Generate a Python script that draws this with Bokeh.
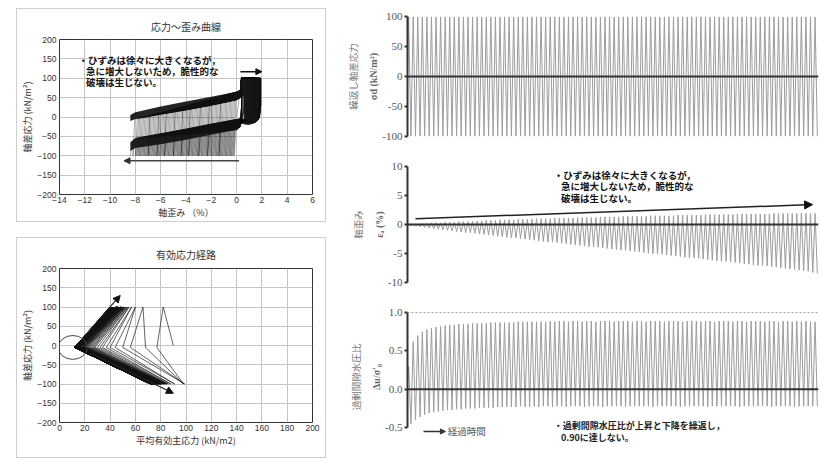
import numpy as np
from bokeh.plotting import figure
from bokeh.layouts import row, column
from bokeh.models import (Range1d, Span, Arrow, NormalHead, LinearAxis, FixedTicker,
                          PrintfTickFormatter, Spacer)
from bokeh.core.properties import value
from bokeh.embed import file_html
from bokeh.resources import INLINE

JP = "Noto Sans CJK JP"
SERIF = "Liberation Serif"
SANS = "Liberation Sans"

N = 90  # number of loading cycles

# ---- time histories: per-cycle peak / trough values ----
stress_peak = [100, 100, 100, 100, 100, 100, 100, 100, 100, 100,
               100, 100, 100, 100, 100, 100, 100, 100, 100, 100,
               100, 100, 100, 100, 100, 100, 100, 100, 100, 100,
               100, 100, 100, 100, 100, 100, 100, 100, 100, 100,
               100, 100, 100, 100, 100, 100, 100, 100, 100, 100,
               100, 100, 100, 100, 100, 100, 100, 100, 100, 100,
               100, 100, 100, 100, 100, 100, 100, 100, 100, 100,
               100, 100, 100, 100, 100, 100, 100, 100, 100, 100,
               100, 100, 100, 100, 100, 100, 100, 100, 100, 100]
stress_trough = [-100, -100, -100, -100, -100, -100, -100, -100, -100, -100,
                 -100, -100, -100, -100, -100, -100, -100, -100, -100, -100,
                 -100, -100, -100, -100, -100, -100, -100, -100, -100, -100,
                 -100, -100, -100, -100, -100, -100, -100, -100, -100, -100,
                 -100, -100, -100, -100, -100, -100, -100, -100, -100, -100,
                 -100, -100, -100, -100, -100, -100, -100, -100, -100, -100,
                 -100, -100, -100, -100, -100, -100, -100, -100, -100, -100,
                 -100, -100, -100, -100, -100, -100, -100, -100, -100, -100,
                 -100, -100, -100, -100, -100, -100, -100, -100, -100, -100]
strain_peak = [0.0, 0.1, 0.1, 0.2, 0.2, 0.3, 0.3, 0.3, 0.4, 0.4,
               0.4, 0.5, 0.5, 0.5, 0.6, 0.6, 0.6, 0.7, 0.7, 0.7,
               0.8, 0.8, 0.8, 0.8, 0.9, 0.9, 0.9, 0.9, 1.0, 1.0,
               1.0, 1.0, 1.1, 1.1, 1.1, 1.1, 1.1, 1.2, 1.2, 1.2,
               1.2, 1.2, 1.3, 1.3, 1.3, 1.3, 1.3, 1.4, 1.4, 1.4,
               1.4, 1.4, 1.4, 1.5, 1.5, 1.5, 1.5, 1.5, 1.5, 1.6,
               1.6, 1.6, 1.6, 1.6, 1.6, 1.7, 1.7, 1.7, 1.7, 1.7,
               1.7, 1.7, 1.8, 1.8, 1.8, 1.8, 1.8, 1.8, 1.8, 1.8,
               1.9, 1.9, 1.9, 1.9, 1.9, 1.9, 1.9, 1.9, 1.9, 1.9]
strain_trough = [-0.2, -0.3, -0.4, -0.5, -0.6, -0.7, -0.8, -0.9, -1.0, -1.1,
                 -1.2, -1.3, -1.4, -1.4, -1.5, -1.6, -1.7, -1.8, -1.9, -2.0,
                 -2.1, -2.2, -2.3, -2.3, -2.4, -2.5, -2.6, -2.7, -2.8, -2.9,
                 -3.0, -3.0, -3.1, -3.2, -3.3, -3.4, -3.5, -3.6, -3.7, -3.8,
                 -3.8, -3.9, -4.0, -4.1, -4.2, -4.3, -4.4, -4.4, -4.5, -4.6,
                 -4.7, -4.8, -4.9, -5.0, -5.0, -5.1, -5.2, -5.3, -5.4, -5.5,
                 -5.6, -5.7, -5.7, -5.8, -5.9, -6.0, -6.1, -6.2, -6.3, -6.3,
                 -6.4, -6.5, -6.6, -6.7, -6.8, -6.9, -7.0, -7.0, -7.1, -7.2,
                 -7.3, -7.4, -7.5, -7.6, -7.7, -7.8, -7.9, -8.0, -8.2, -8.4]
pore_peak = [0.30, 0.62, 0.70, 0.75, 0.78, 0.80, 0.81, 0.82, 0.83, 0.84,
             0.84, 0.85, 0.85, 0.85, 0.86, 0.86, 0.86, 0.86, 0.87, 0.87,
             0.87, 0.87, 0.87, 0.87, 0.88, 0.88, 0.88, 0.88, 0.88, 0.88,
             0.88, 0.89, 0.88, 0.89, 0.89, 0.88, 0.89, 0.89, 0.88, 0.89,
             0.89, 0.88, 0.89, 0.89, 0.89, 0.88, 0.89, 0.89, 0.89, 0.88,
             0.89, 0.89, 0.88, 0.89, 0.89, 0.89, 0.88, 0.89, 0.89, 0.89,
             0.88, 0.89, 0.89, 0.89, 0.88, 0.89, 0.89, 0.88, 0.89, 0.89,
             0.89, 0.88, 0.89, 0.89, 0.88, 0.89, 0.89, 0.89, 0.88, 0.89,
             0.89, 0.88, 0.89, 0.89, 0.88, 0.89, 0.88, 0.89, 0.88, 0.88]
pore_trough = [-0.45, -0.40, -0.36, -0.33, -0.31, -0.30, -0.29, -0.28, -0.27, -0.27,
               -0.26, -0.26, -0.25, -0.25, -0.25, -0.24, -0.24, -0.24, -0.24, -0.23,
               -0.23, -0.23, -0.23, -0.23, -0.22, -0.23, -0.23, -0.22, -0.23, -0.22,
               -0.22, -0.23, -0.22, -0.22, -0.23, -0.22, -0.22, -0.22, -0.23, -0.22,
               -0.22, -0.22, -0.23, -0.22, -0.22, -0.22, -0.22, -0.23, -0.22, -0.22,
               -0.22, -0.22, -0.22, -0.23, -0.22, -0.22, -0.22, -0.22, -0.22, -0.23,
               -0.22, -0.22, -0.22, -0.22, -0.22, -0.23, -0.22, -0.22, -0.22, -0.22,
               -0.22, -0.22, -0.23, -0.22, -0.22, -0.22, -0.22, -0.22, -0.22, -0.23,
               -0.22, -0.22, -0.22, -0.22, -0.23, -0.22, -0.22, -0.22, -0.22, -0.22]

# ---- stress-strain branches (band edges) ----
band_strain = [-8.4, -8.0, -6.0, -4.0, -2.0, 0.0, 0.3]
upper_band_top = [5, 12, 27, 40, 52, 65, 70]
upper_band_bot = [-10, -5, 7, 18, 30, 44, 50]
lower_band_top = [-65, -55, -43, -31, -18, -6, -4]
lower_band_bot = [-88, -80, -70, -59, -46, -33, -25]
# dense compression block at the right of the loops
block_strain = [0.3, 0.35, 1.85, 1.85, 1.8, 1.7, 1.4, 1.0, 0.6, 0.6, 0.3]
block_stress = [62, 100, 100, 30, 5, -8, -15, -19, -18, 52, 62]

# ---- effective stress path: per-cycle p' at turning points ----
p_start = 90
p_tip_comp = [82, 66, 60, 57, 55, 54, 53, 52, 52, 51,
              51, 50, 50, 50, 49, 49, 49, 48, 48, 48,
              48, 47, 47, 47, 47, 46, 46, 46, 46, 46,
              45, 45, 45, 45, 45, 45, 44, 44, 44, 44,
              44, 44, 44, 43, 43, 43, 43, 43, 43, 43,
              43, 42, 42, 42, 42, 42, 42, 42, 42, 42,
              42, 42, 41, 42, 41, 42, 41, 41, 42, 41,
              41, 41, 41, 42, 41, 41, 41, 41, 41, 41,
              41, 41, 40, 41, 41, 40, 41, 40, 41, 40]
p_tip_ext = [98, 99, 91, 88, 86, 85, 84, 84, 83, 83,
             82, 82, 81, 81, 81, 80, 80, 80, 79, 79,
             79, 79, 78, 78, 78, 78, 77, 77, 77, 77,
             77, 76, 76, 76, 76, 76, 76, 75, 75, 75,
             75, 75, 75, 75, 74, 74, 74, 74, 74, 74,
             74, 74, 74, 73, 73, 73, 73, 73, 73, 73,
             73, 73, 72, 73, 73, 72, 73, 72, 73, 72,
             72, 73, 72, 72, 73, 72, 72, 72, 73, 72,
             72, 72, 72, 73, 72, 72, 72, 72, 72, 72]
p_apex_load = [90, 68, 50, 40, 34, 30, 27, 25, 23, 22,
               21, 20, 19, 19, 18, 18, 17, 17, 16, 16,
               16, 15, 15, 15, 15, 14, 14, 14, 14, 14,
               13, 13, 13, 13, 13, 13, 13, 13, 13, 13,
               13, 13, 12, 13, 12, 13, 12, 12, 13, 12,
               12, 12, 12, 13, 12, 12, 12, 12, 12, 12,
               12, 12, 12, 12, 12, 12, 12, 12, 12, 12,
               12, 12, 12, 12, 12, 12, 12, 12, 12, 12,
               12, 12, 12, 12, 12, 12, 12, 12, 12, 12]
p_apex_unload = [77, 56, 44, 37, 32, 28, 26, 24, 22, 21,
                 20, 19, 19, 18, 18, 17, 17, 16, 16, 16,
                 15, 15, 15, 14, 14, 14, 14, 13, 13, 13,
                 13, 13, 13, 13, 13, 12, 13, 12, 13, 12,
                 12, 12, 12, 12, 12, 12, 12, 12, 12, 12,
                 12, 12, 12, 12, 12, 12, 12, 12, 12, 12,
                 12, 12, 12, 12, 12, 12, 12, 12, 12, 12,
                 12, 12, 12, 12, 12, 12, 12, 12, 12, 12,
                 12, 12, 12, 12, 12, 12, 12, 12, 12, 12]
apex_q = -5

# ---- annotations ----
note_lines = ["・ひずみは徐々に大きくなるが，", "急に増大しないため，脆性的な", "破壊は生じない。"]
pore_note = ["・過剰間隙水圧比が上昇と下降を繰返し，", "0.90に達しない。"]
ss_note_x = [-12.5, -11.9, -11.9]
ss_note_y = [147, 118, 90]
ts_note_x = [32.0, 33.6, 33.6]
ts_note_y = [8.5, 6.6, 4.6]
pore_note_x = [32.0, 33.6]
pore_note_y = [-0.47, -0.63]
circle_p, circle_q, circle_w, circle_h = 10.5, -5, 23, 62


def style_left(p, xticks, yticks, xlabel, ylabel, title, title_standoff):
    p.title.text = title
    p.title.align = "center"
    p.title.text_font = JP
    p.title.text_font_size = "10px"
    p.title.text_font_style = "normal"
    p.title.text_color = "#333333"
    p.title.standoff = title_standoff
    p.xaxis.ticker = FixedTicker(ticks=xticks)
    p.yaxis.ticker = FixedTicker(ticks=yticks)
    p.xgrid.ticker = FixedTicker(ticks=xticks)
    p.ygrid.ticker = FixedTicker(ticks=yticks)
    p.grid.grid_line_color = "#c4c4c4"
    p.grid.grid_line_width = 1
    p.outline_line_color = "#333333"
    p.outline_line_width = 1
    for ax in (p.xaxis[0], p.yaxis[0]):
        ax.axis_line_color = None
        ax.major_tick_line_color = None
        ax.minor_tick_line_color = None
        ax.major_tick_out = 0
        ax.major_tick_in = 0
        ax.minor_tick_out = 0
        ax.minor_tick_in = 0
        ax.major_label_text_font = SANS
        ax.major_label_text_font_size = "8.5px"
        ax.major_label_text_color = "#333333"
        ax.axis_label_text_font = JP
        ax.axis_label_text_font_size = "9px"
        ax.axis_label_text_font_style = "normal"
        ax.axis_label_text_color = "#333333"
    p.xaxis.major_label_standoff = 2
    p.xaxis.axis_label_standoff = 0
    p.yaxis.major_label_standoff = 3
    p.yaxis.axis_label_standoff = 0
    p.xaxis.axis_label = xlabel
    p.yaxis.axis_label = ylabel


# ===== stress-strain loops =====
p1 = figure(width=308, height=212, x_range=Range1d(-14, 6), y_range=Range1d(-200, 200),
            output_backend="svg", toolbar_location=None,
            min_border_left=42, min_border_right=13, min_border_top=30, min_border_bottom=27)
style_left(p1, list(range(-14, 7, 2)), list(range(-200, 201, 50)),
           "軸歪み （%）", "軸差応力 (kN/m²)", "応力～歪み曲線", 12)

bs = np.array(band_strain)


def band(e, top, bot, w):
    t = np.interp(e, bs, top)
    b = np.interp(e, bs, bot)
    return float(t * (1 - w) + b * w)


loop_xs, loop_ys = [], []
prev_e = None
for k in range(N):
    w = k / (N - 1)
    emax, emin = strain_peak[k], strain_trough[k]
    ex, qy = [], []
    if prev_e is None:
        ex.append(0.0); qy.append(0.0)
    else:
        ex.append(prev_e); qy.append(-100.0)
        e0 = prev_e + 0.15
        ex.append(e0); qy.append(band(e0, upper_band_top, upper_band_bot, w))
    for e in band_strain:
        if e > ex[-1]:
            ex.append(e); qy.append(band(e, upper_band_top, upper_band_bot, w))
    right = max(emax, 0.4)
    ex += [0.4, right, right]; qy += [100.0, 100.0, 30.0]
    if right - 0.45 > 0.3:
        ex += [right - 0.1, right - 0.45]; qy += [-2.0, -14.0]
    e1 = emin + 0.15
    for e in band_strain[::-1]:
        if e > e1 and e < ex[-1]:
            ex.append(e); qy.append(band(e, lower_band_bot, lower_band_top, w))
    ex += [e1, emin]; qy += [band(e1, lower_band_bot, lower_band_top, w), -100.0]
    loop_xs.append(ex); loop_ys.append(qy)
    prev_e = emin

p1.multi_line(loop_xs, loop_ys, line_color="#000000", line_alpha=0.33, line_width=1)
p1.varea(x=band_strain, y1=upper_band_bot, y2=upper_band_top, fill_color="#111111", fill_alpha=0.92)
p1.varea(x=band_strain, y1=lower_band_bot, y2=lower_band_top, fill_color="#111111", fill_alpha=0.92)
p1.patch(block_strain, block_stress, fill_color="#111111", fill_alpha=0.92, line_color="#111111", line_width=1)
p1.add_layout(Arrow(end=NormalHead(size=6, fill_color="#111", line_color="#111"),
                    x_start=0.3, y_start=117, x_end=2.0, y_end=117, line_width=1.5, line_color="#111"))
p1.add_layout(Arrow(end=NormalHead(size=6, fill_color="#333", line_color="#333"),
                    x_start=0.2, y_start=-113, x_end=-8.9, y_end=-113, line_width=1.5, line_color="#444"))
p1.text(x=ss_note_x, y=ss_note_y, text=note_lines, text_font=value(JP), text_font_size=value("9.5px"),
        text_font_style="bold", text_baseline="middle", text_align="left", text_color="#111111")

# ===== effective stress path =====
p2 = figure(width=308, height=219, x_range=Range1d(0, 200), y_range=Range1d(-200, 200),
            output_backend="svg", toolbar_location=None,
            min_border_left=42, min_border_right=13, min_border_top=30, min_border_bottom=35)
style_left(p2, list(range(0, 201, 20)), list(range(-200, 201, 50)),
           "平均有効主応力 (kN/m2)", "軸差応力 (kN/m²)", "有効応力経路", 13)

sp_x, sp_y = [float(p_start)], [0.0]
for k in range(N):
    if k > 0:
        sp_x.append(p_apex_load[k]); sp_y.append(apex_q)
    sp_x += [p_tip_comp[k], p_apex_unload[k], p_tip_ext[k]]
    sp_y += [100, apex_q, -100]
p2.line(sp_x, sp_y, line_color="#111111", line_alpha=0.65, line_width=1)
p2.ellipse(x=[circle_p], y=[circle_q], width=circle_w, height=circle_h,
           fill_color=None, line_color="#444444", line_width=1)
p2.add_layout(Arrow(end=NormalHead(size=7, fill_color="#111", line_color="#111"),
                    x_start=20, y_start=25, x_end=48, y_end=130, line_width=1.2, line_color="#222"))
p2.add_layout(Arrow(end=NormalHead(size=7, fill_color="#111", line_color="#111"),
                    x_start=25, y_start=-20, x_end=90, y_end=-124, line_width=1.2, line_color="#222"))


# ===== time histories =====
def zigzag(peaks, troughs):
    xs, ys = [0.0], [0.0]
    for i, (a, b) in enumerate(zip(peaks, troughs)):
        xs += [i + 0.25, i + 0.75]
        ys += [a, b]
    return xs, ys


def right_fig(yr, bounds, yticks, fmt, label1, label2, h, top, bottom):
    p = figure(width=489, height=h, x_range=Range1d(0, N), y_range=Range1d(*yr),
               x_axis_location=None, output_backend="svg", toolbar_location=None,
               min_border_left=77, min_border_right=1, min_border_top=top, min_border_bottom=bottom)
    p.grid.visible = False
    p.outline_line_color = None
    ax = p.yaxis[0]
    ax.bounds = bounds
    ax.ticker = FixedTicker(ticks=yticks)
    ax.formatter = PrintfTickFormatter(format=fmt)
    ax.axis_line_width = 2
    ax.axis_line_color = "#333333"
    ax.major_tick_out = 3
    ax.major_tick_in = 0
    ax.major_tick_line_width = 2
    ax.major_tick_line_color = "#333333"
    ax.minor_tick_line_color = None
    ax.major_label_text_font = SERIF
    ax.major_label_text_font_size = "11px"
    ax.major_label_text_color = "#555555"
    ax.major_label_standoff = 2
    ax.axis_label = label2
    ax.axis_label_text_font = SERIF
    ax.axis_label_text_font_size = "10px"
    ax.axis_label_text_font_style = "bold"
    ax.axis_label_text_color = "#666666"
    ax.axis_label_standoff = 0
    extra = LinearAxis(ticker=FixedTicker(ticks=[]), axis_line_color=None,
                       major_tick_line_color=None, minor_tick_line_color=None,
                       major_tick_out=0, major_tick_in=0,
                       axis_label=label1, axis_label_standoff=6,
                       axis_label_text_font=JP, axis_label_text_font_size="9.5px",
                       axis_label_text_font_style="normal", axis_label_text_color="#777777")
    p.add_layout(extra, "left")
    p.add_layout(Span(location=0, dimension="width", line_color="#333333", line_width=2))
    return p


p3 = right_fig((-104, 104), (-100, 100), [-100, -50, 0, 50, 100], "%d",
               "繰返し軸差応力", "σd (kN/m²)", 158, 14, 20)
x3, y3 = zigzag(stress_peak, stress_trough)
p3.line(x3, y3, line_color="#9c9c9c", line_width=1)

p4 = right_fig((-10.6, 10.6), (-10, 10), [-10, -5, 0, 5, 10], "%d",
               "軸歪み", "εₐ (%)", 146, 4, 18)
x4, y4 = zigzag(strain_peak, strain_trough)
p4.line(x4, y4, line_color="#9c9c9c", line_width=1)
p4.add_layout(Arrow(end=NormalHead(size=8, fill_color="#111", line_color="#111"),
                    x_start=1.75, y_start=1.0, x_end=88.7, y_end=3.4, line_width=1.5, line_color="#222"))
p4.text(x=ts_note_x, y=ts_note_y, text=note_lines, text_font=value(JP), text_font_size=value("9.5px"),
        text_font_style="bold", text_baseline="middle", text_align="left", text_color="#111111")

p5 = right_fig((-0.72, 1.04), (-0.5, 1.0), [-0.5, 0.0, 0.5, 1.0], "%.1f",
               "過剰間隙水圧比", "Δu/σ′₀", 154, 5, 14)
x5, y5 = zigzag(pore_peak, pore_trough)
p5.line(x5, y5, line_color="#9c9c9c", line_width=1)
p5.add_layout(Span(location=1.0, dimension="width", line_color="#9a9a9a", line_width=1, line_dash="2 2"))
p5.add_layout(Arrow(end=NormalHead(size=5, fill_color="#333", line_color="#333"),
                    x_start=3.5, y_start=-0.55, x_end=8.3, y_end=-0.55, line_width=1.5, line_color="#333"))
p5.text(x=[8.8], y=[-0.55], text=["経過時間"], text_font=value(JP), text_font_size=value("9.5px"),
        text_baseline="middle", text_align="left", text_color="#555555")
p5.text(x=pore_note_x, y=pore_note_y, text=pore_note, text_font=value(JP), text_font_size=value("9px"),
        text_font_style="bold", text_baseline="middle", text_align="left", text_color="#222222")

box1 = column(p1, styles={"border": "1px solid #cfcfcf"})
box2 = column(p2, styles={"border": "1px solid #cfcfcf"})
left = column(Spacer(width=310, height=8), box1, Spacer(width=310, height=15), box2, spacing=0)
right = column(p3, p4, p5, spacing=0)
layout = row(Spacer(width=16, height=10), left, Spacer(width=4, height=10), right, spacing=0)

open("out.html", "w").write(file_html(layout, INLINE))
